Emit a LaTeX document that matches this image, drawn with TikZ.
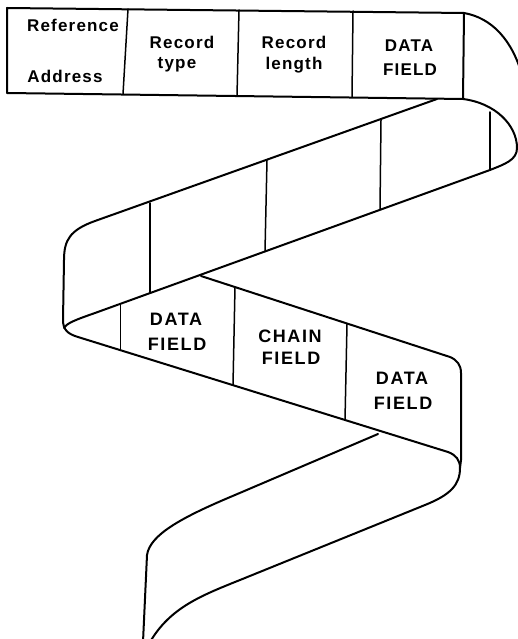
\documentclass[tikz,border=0pt]{standalone}
\usepackage{fontspec}
\newfontfamily\labelfont[LetterSpace=7]{Liberation Sans}
\newfontfamily\bandfont[LetterSpace=9]{Liberation Sans}
\begin{document}
\begin{tikzpicture}[x=1pt,y=-1pt,
  edge/.style={line width=2pt,line cap=round,line join=round},
  divider/.style={line width=1.5pt,line cap=round},
  thindivider/.style={line width=0.8pt},
  toplabel/.style={anchor=base,inner sep=0pt,font=\labelfont\bfseries\fontsize{17}{19}\selectfont},
  bandlabel/.style={anchor=base,inner sep=0pt,font=\bandfont\bfseries\fontsize{18}{20}\selectfont}]
\useasboundingbox (0,0) rectangle (518,639);
\clip (0,0) rectangle (518,639);

% first band: the record header, seen flat
\draw[edge] (7,8) -- (464,13) -- (463,99) -- (7,93) -- cycle;
\draw[divider] (128,9) -- (123,94);
\draw[divider] (239,10) -- (237,96);
\draw[divider] (353,11) -- (352,97);
% outer fold at the upper right
\draw[edge] (464,13) .. controls (492,18) and (512,40) .. (522,75);
% inner fold leading into the second band
\draw[edge] (463,99) .. controls (495,103) and (517,125) .. (517,148)
  .. controls (517,160) and (505,164) .. (490,170);

% second band, running down to the left
\draw[edge] (437,99) -- (95,221) .. controls (70,230) and (64,240) .. (64,260)
  -- (63,320) .. controls (63,330) and (68,334) .. (78,337);
\draw[edge] (490,170) -- (95,313) .. controls (75,320) and (67,323) .. (64,328);
\draw[divider] (490,112) -- (490,169);
\draw[divider] (381,120) -- (380,209);
\draw[divider] (267,160) -- (265,251);
\draw[divider] (150,203) -- (150,293);

% third band, running down to the right
\draw[edge] (78,337) -- (448,452) .. controls (456,455) and (460,460) .. (460,468);
\draw[edge] (201,276) -- (450,357) .. controls (457,360) and (461,365) .. (461,373)
  -- (461,460) -- (460,468);
\draw[thindivider] (120,304) -- (120,350);
\draw[divider] (235,287) -- (233,385);
\draw[divider] (347,324) -- (345,420);

% fourth band, falling away to the lower left
\draw[edge] (460,468) .. controls (460,485) and (450,495) .. (425,505)
  -- (240,580) .. controls (200,596) and (170,608) .. (150,642);
\draw[edge] (378,434) -- (235,495) .. controls (180,518) and (150,535) .. (147,555)
  -- (143,642);

% field names of the header
\node[toplabel] (refa) at (73,31.5) {Reference};
\node[toplabel] (refb) at (65,83) {Address};
\node[toplabel] (typa) at (182,49) {Record};
\node[toplabel] (typb) at (177,69) {type};
\node[toplabel] (lena) at (294,49) {Record};
\node[toplabel] (lenb) at (294,70) {length};
\node[toplabel] (dfa) at (409,52) {DATA};
\node[toplabel] (dfb) at (410,76) {FIELD};

% field names on the third band
\node[bandlabel] (d1a) at (176,325) {DATA};
\node[bandlabel] (d1b) at (177,350) {FIELD};
\node[bandlabel] (cha) at (290,342) {CHAIN};
\node[bandlabel] (chb) at (291,364) {FIELD};
\node[bandlabel] (d2a) at (402,384) {DATA};
\node[bandlabel] (d2b) at (403,409) {FIELD};
\end{tikzpicture}
\end{document}
